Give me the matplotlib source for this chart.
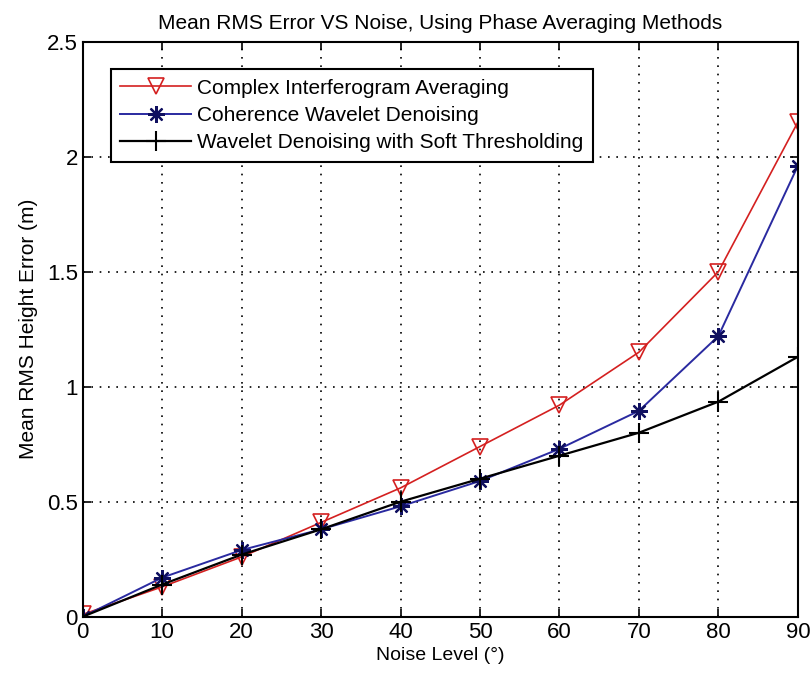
import matplotlib.pyplot as plt

plt.rcParams['font.family'] = ['Liberation Sans', 'DejaVu Sans']

noise = [0, 10, 20, 30, 40, 50, 60, 70, 80, 90]
complex_avg = [0.01, 0.13, 0.26, 0.41, 0.56, 0.74, 0.92, 1.15, 1.50, 2.15]
coherence_wav = [0.00, 0.17, 0.29, 0.38, 0.48, 0.59, 0.73, 0.895, 1.22, 1.96]
soft_thresh = [0.00, 0.14, 0.27, 0.38, 0.50, 0.60, 0.70, 0.80, 0.935, 1.13]

fig = plt.figure(figsize=(8.1, 6.83), dpi=100)
ax = fig.add_axes([0.102, 0.097, 0.883, 0.842])

ax.plot(noise, complex_avg, color='#d42020', marker='v', markersize=11,
        markerfacecolor='none', markeredgewidth=1.2, linewidth=1.2,
        label='Complex Interferogram Averaging')
ax.plot(noise, coherence_wav, color='#2a2aa0', marker=(8, 2, 0), markersize=12,
        markeredgecolor='#101060', markeredgewidth=1.6, linewidth=1.4,
        label='Coherence Wavelet Denoising')
ax.plot(noise, soft_thresh, color='black', marker='+', markersize=14,
        markeredgewidth=1.5, linewidth=1.6,
        label='Wavelet Denoising with Soft Thresholding')

ax.set_xlim(0, 90)
ax.set_ylim(0, 2.5)
ax.set_xticks(noise)
ax.set_yticks([0, 0.5, 1, 1.5, 2, 2.5])
ax.set_yticklabels(['0', '0.5', '1', '1.5', '2', '2.5'])
ax.tick_params(direction='in', top=True, right=True, length=6, width=1.2,
               labelsize=16)
for s in ax.spines.values():
    s.set_linewidth(1.5)
ax.grid(True, linestyle=(0, (1, 4)), color='black', linewidth=1.2)

ax.set_xlabel('Noise Level (°)', fontsize=14, labelpad=3)
ax.set_ylabel('Mean RMS Height Error (m)', fontsize=15, labelpad=6)
ax.set_title('Mean RMS Error VS Noise, Using Phase Averaging Methods',
             fontsize=15, pad=9)

leg = ax.legend(loc='upper left', bbox_to_anchor=(0.025, 0.97), fontsize=15,
                fancybox=False, framealpha=1, edgecolor='black',
                handlelength=3.4, borderpad=0.45, labelspacing=0.4,
                handletextpad=0.3)
leg.get_frame().set_linewidth(1.5)

fig.savefig('out.png', dpi=100)
